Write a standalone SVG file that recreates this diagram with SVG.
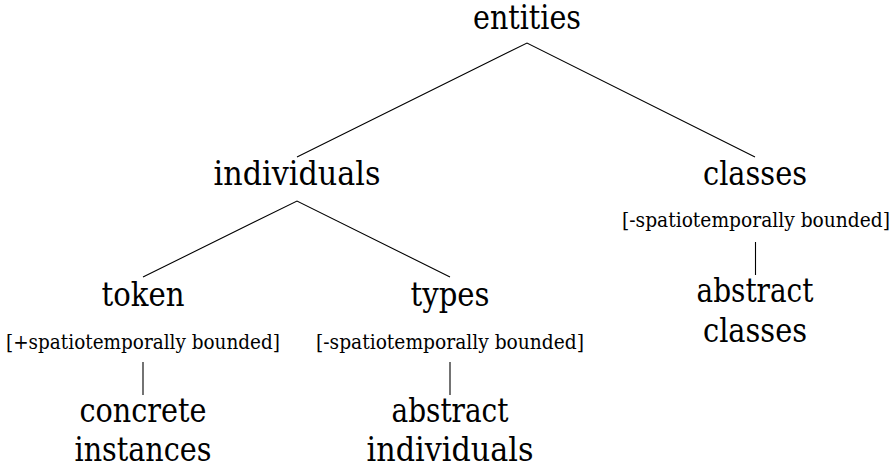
<svg xmlns="http://www.w3.org/2000/svg" width="892" height="468" viewBox="0 0 892 468">
  <style>
    .lbl { fill: #000; text-anchor: middle; font-family: "DejaVu Serif", "Liberation Serif", serif; }
    .big { font-size: 33px; }
    .small { font-size: 21px; }
    .edge { stroke: #000; stroke-width: 1.1; fill: none; }
  </style>
  <rect width="892" height="468" fill="#fff"/>

  <!-- tree branches -->
  <g id="connectors">
    <polyline class="edge" points="297,157 527,43 755,157"/>
    <polyline class="edge" points="143,277 297,201 450,277"/>
    <line class="edge" x1="143" y1="362" x2="143" y2="395"/>
    <line class="edge" x1="450" y1="362" x2="450" y2="395"/>
    <line class="edge" x1="755.5" y1="242" x2="755.5" y2="275"/>
  </g>

  <!-- labels; textLength keeps each word at its set width -->
  <g id="entities">
    <text class="lbl big" x="527" y="29" textLength="108" lengthAdjust="spacingAndGlyphs">entities</text>
  </g>
  <g id="individuals">
    <text class="lbl big" x="297" y="185" textLength="167" lengthAdjust="spacingAndGlyphs">individuals</text>
  </g>
  <g id="classes">
    <text class="lbl big" x="755" y="185" textLength="104" lengthAdjust="spacingAndGlyphs">classes</text>
    <text class="lbl small" x="756" y="227" textLength="268" lengthAdjust="spacingAndGlyphs">[-spatiotemporally bounded]</text>
  </g>
  <g id="token">
    <text class="lbl big" x="143" y="306" textLength="83" lengthAdjust="spacingAndGlyphs">token</text>
    <text class="lbl small" x="143" y="349" textLength="274" lengthAdjust="spacingAndGlyphs">[+spatiotemporally bounded]</text>
  </g>
  <g id="types">
    <text class="lbl big" x="450" y="306" textLength="79" lengthAdjust="spacingAndGlyphs">types</text>
    <text class="lbl small" x="450" y="349" textLength="268" lengthAdjust="spacingAndGlyphs">[-spatiotemporally bounded]</text>
  </g>
  <g id="concrete-instances">
    <text class="lbl big" x="143" y="422" textLength="127" lengthAdjust="spacingAndGlyphs">concrete</text>
    <text class="lbl big" x="143" y="461" textLength="137" lengthAdjust="spacingAndGlyphs">instances</text>
  </g>
  <g id="abstract-individuals">
    <text class="lbl big" x="450" y="422" textLength="117" lengthAdjust="spacingAndGlyphs">abstract</text>
    <text class="lbl big" x="450" y="461" textLength="167" lengthAdjust="spacingAndGlyphs">individuals</text>
  </g>
  <g id="abstract-classes">
    <text class="lbl big" x="755" y="302" textLength="117" lengthAdjust="spacingAndGlyphs">abstract</text>
    <text class="lbl big" x="755" y="342" textLength="104" lengthAdjust="spacingAndGlyphs">classes</text>
  </g>
</svg>
